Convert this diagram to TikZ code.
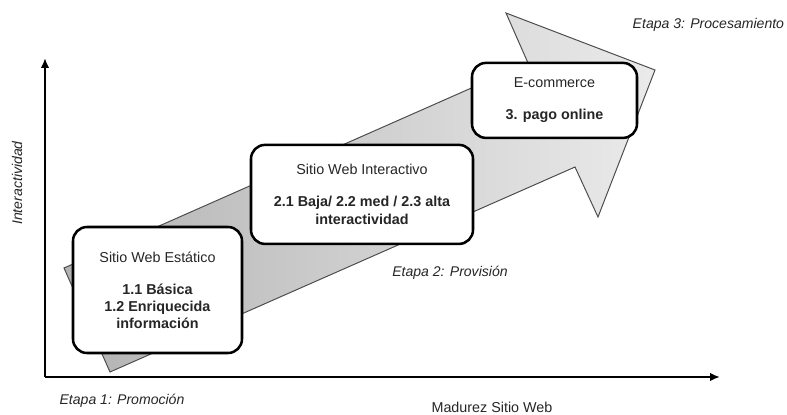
\documentclass[tikz,border=0pt]{standalone}
\usepackage{fontspec}
\setmainfont{Liberation Sans}
\usepackage{tikz}
\usetikzlibrary{arrows.meta, positioning, calc}

\tikzset{
  stagebox/.style={draw=black, line width=1.8pt, rounded corners=0.35cm, fill=white,
    align=center, inner sep=2pt, text=black!85},
  stagelabel/.style={font=\itshape, text=black!85},
  axislabel/.style={text=black!85},
  axisline/.style={line width=1.4pt, -{Latex[length=7pt, width=6pt]}}
}

\begin{document}
\begin{tikzpicture}[font=\fontsize{10.2}{12.2}\selectfont]
  \useasboundingbox (0,0) rectangle (19.675,10.35);

  % Big growth arrow
  \shade[left color=black!30, right color=black!8, draw=black!70, line width=0.7pt, line join=miter]
    (2.75,1.05) -- (1.6,3.65) -- (13.2,8.775) -- (12.65,10.025) -- (16.375,8.6)
    -- (14.95,4.925) -- (14.375,6.175) -- cycle;

  % Axes
  \coordinate (origin) at (1.125,0.925);
  \coordinate (ytop) at (1.125,8.9);
  \coordinate (xend) at (18.0,0.925);
  \draw[axisline] (origin) -- (ytop);
  \draw[axisline] (origin) -- (xend);
  \node[axislabel] (xlab) at (12.3,0.17) {Madurez Sitio Web};
  \node[axislabel, font=\itshape, rotate=90] (ylab) at (0.425,5.775) {Interactividad};

  % Stages
  \node[stagebox, minimum width=4.225cm, minimum height=3.15cm] (static) at (3.9375,3.1)
    {Sitio Web Estático\\[10.5pt]\textbf{1.1 Básica}\\\textbf{1.2 Enriquecida}\\\textbf{información}};
  \node[stagebox, minimum width=5.55cm, minimum height=2.475cm] (inter) at (9.05,5.49)
    {Sitio Web Interactivo\\[10.5pt]\textbf{2.1 Baja/ 2.2 med / 2.3 alta}\\\textbf{interactividad}};
  \node[stagebox, minimum width=4.125cm, minimum height=1.875cm] (ecom) at (13.8625,7.84)
    {E-commerce\\[10.5pt]\textbf{3. pago online}};

  \node[stagelabel] (etapa1) at (3.05,0.33) {Etapa 1: Promoción};
  \node[stagelabel] (etapa2) at (11.25,3.525) {Etapa 2: Provisión};
  \node[stagelabel] (etapa3) at (17.71,9.725) {Etapa 3: Procesamiento};
\end{tikzpicture}
\end{document}
